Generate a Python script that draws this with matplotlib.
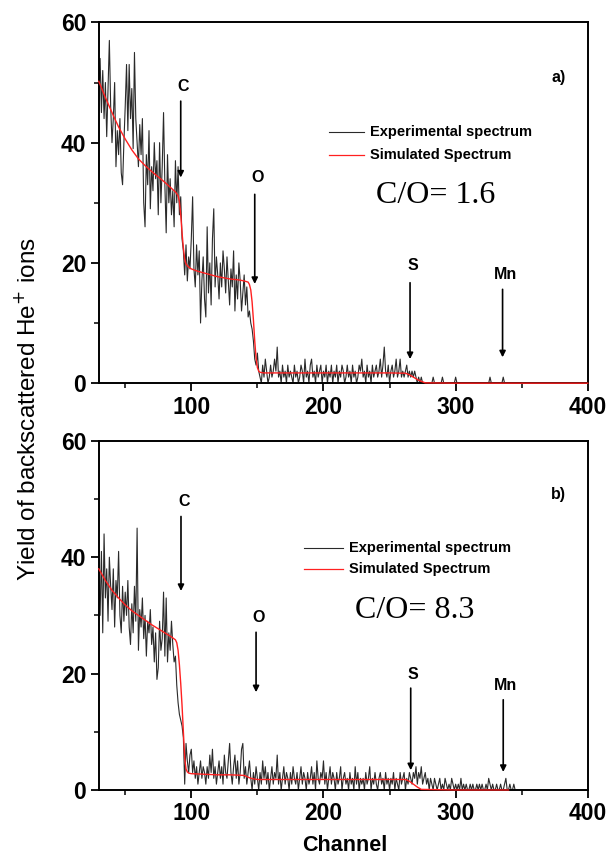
import numpy as np
import matplotlib
matplotlib.use('Agg')
import matplotlib.pyplot as plt
from matplotlib.ticker import MultipleLocator

plt.rcParams['font.family'] = ['Liberation Sans', 'DejaVu Sans']

# experimental counts, one value per channel starting at channel 30
exp_a = [
    50, 54, 45, 52, 44, 50, 41, 49, 57, 46,
    40, 44, 50, 36, 42, 38, 44, 35, 33, 40,
    46, 53, 42, 53, 44, 49, 39, 55, 44, 40,
    36, 43, 38, 44, 30, 26, 38, 33, 42, 29,
    36, 32, 40, 34, 37, 28, 40, 30, 36, 45,
    33, 25, 38, 30, 34, 28, 32, 26, 37, 30,
    36, 28, 31, 24, 22, 18, 23, 17, 21, 19,
    24, 31, 19, 16, 23, 18, 22, 10, 17, 21,
    14, 11, 26, 15, 20, 13, 24, 29, 16, 21,
    18, 14, 20, 16, 22, 19, 15, 21, 17, 13,
    19, 16, 22, 12, 18, 14, 20, 17, 12, 15,
    18, 13, 16, 11, 12, 10, 9, 7, 4, 3,
    5, 2, 1, 0, 3, 1, 4, 2, 0, 1,
    3, 1, 2, 4, 2, 6, 1, 2, 0, 3,
    1, 2, 0, 3, 1, 2, 1, 0, 3, 1,
    2, 0, 1, 3, 2, 0, 4, 1, 2, 0,
    3, 4, 1, 2, 0, 3, 1, 2, 3, 0,
    2, 1, 3, 0, 2, 1, 3, 0, 2, 1,
    3, 0, 2, 1, 3, 2, 0, 1, 3, 1,
    2, 0, 3, 1, 2, 0, 1, 3, 2, 4,
    1, 2, 0, 3, 1, 2, 0, 3, 1, 2,
    3, 1, 2, 4, 1, 3, 6, 2, 1, 3,
    0, 2, 3, 1, 2, 4, 1, 2, 4, 1,
    2, 1, 2, 3, 1, 2, 1, 2, 1, 2,
    1, 0, 1, 0, 1, 0, 0, 0, 0, 0,
    0, 0, 0, 1, 0, 0, 0, 0, 0, 0,
    1, 0, 0, 0, 0, 0, 0, 0, 0, 0,
    1, 0, 0, 0, 0, 0, 0, 0, 0, 0,
    0, 0, 0, 0, 0, 0, 0, 0, 0, 0,
    0, 0, 0, 0, 0, 0, 1, 0, 0, 0,
    0, 0, 0, 0, 0, 0, 1, 0, 0, 0,
]

exp_b = [
    36, 30, 41, 27, 44, 33, 38, 29, 40, 35,
    31, 38, 28, 36, 33, 41, 30, 27, 35, 29,
    34, 30, 36, 28, 25, 32, 27, 35, 29, 45,
    24, 31, 28, 33, 26, 30, 23, 29, 27, 31,
    25, 28, 22, 27, 19, 21, 29, 24, 26, 34,
    23, 33, 22, 27, 24, 29, 25, 22, 23, 18,
    15, 13, 12, 11, 9, 1, 8, 5, 3, 6,
    7, 3, 5, 2, 4, 1, 3, 5, 2, 4,
    3, 1, 4, 2, 6, 3, 7, 2, 4, 1,
    3, 5, 2, 4, 1, 6, 3, 2, 5, 8,
    3, 1, 4, 6, 2, 5, 1, 3, 7, 8,
    2, 4, 1, 3, 5, 2, 0, 3, 1, 4,
    2, 0, 3, 1, 5, 2, 4, 1, 3, 0,
    2, 4, 1, 3, 2, 6, 1, 3, 0, 2,
    4, 1, 3, 2, 0, 3, 1, 4, 2, 1,
    3, 0, 2, 4, 1, 3, 2, 0, 3, 1,
    2, 4, 1, 3, 0, 5, 2, 1, 3, 2,
    5, 1, 3, 0, 2, 4, 1, 3, 2, 0,
    3, 1, 2, 4, 0, 2, 3, 1, 2, 0,
    3, 1, 2, 0, 4, 1, 3, 0, 2, 1,
    2, 0, 3, 1, 2, 4, 0, 2, 1, 3,
    1, 0, 2, 3, 1, 2, 0, 3, 1, 2,
    0, 2, 1, 3, 0, 2, 1, 0, 3, 1,
    2, 3, 0, 2, 1, 3, 2, 1, 3, 2,
    4, 1, 3, 2, 4, 1, 2, 3, 1, 2,
    0, 2, 1, 0, 2, 1, 0, 1, 2, 0,
    1, 0, 2, 1, 0, 1, 0, 2, 1, 0,
    1, 0, 1, 0, 2, 0, 1, 0, 1, 0,
    0, 1, 0, 1, 0, 0, 1, 0, 1, 0,
    1, 0, 0, 1, 0, 2, 1, 0, 1, 0,
    0, 1, 0, 0, 1, 0, 0, 1, 2, 0,
    0, 1, 0, 0, 1, 0,
]

# simulated spectra read at key channels
sim_a_ch = [30, 35, 40, 45, 50, 55, 60, 65, 70, 75, 80, 85, 88, 90, 91, 92, 93, 94, 95, 96, 98,
            100, 105, 110, 115, 120, 125, 130, 135, 140, 143, 144, 145, 146, 147, 148, 149, 150,
            151, 152, 155, 160, 200, 250, 262, 265, 268, 271, 274, 277, 300, 350, 400]
sim_a = [50.2, 47.5, 45, 42.6, 40.6, 38.8, 37.3, 36.2, 35.2, 34.3, 33.4, 32.4, 31.8, 31.2, 30.2,
         28, 25, 22.5, 20.6, 19.8, 19.3, 19, 18.6, 18.3, 18.0, 17.7, 17.5, 17.3, 17.2, 17.0, 16.8,
         16.4, 15.5, 13.5, 10.5, 7, 4.2, 2.6, 2.0, 1.8, 1.7, 1.7, 1.7, 1.7, 1.65, 1.4, 1.0, 0.6,
         0.3, 0.05, 0, 0, 0]

sim_b_ch = [30, 35, 40, 45, 50, 55, 60, 65, 70, 75, 80, 85, 88, 89, 90, 91, 92, 93, 94, 95, 96,
            97, 98, 100, 110, 120, 130, 140, 145, 150, 160, 200, 250, 262, 265, 268, 271, 274,
            300, 340]
sim_b = [38, 36, 34.3, 33, 31.8, 30.8, 30, 29.2, 28.4, 27.7, 27, 26.3, 25.8, 25.3, 24, 21.5,
         18.3, 14.5, 10, 5.5, 3.6, 3.1, 2.9, 2.8, 2.7, 2.6, 2.6, 2.5, 2.0, 1.8, 1.8, 1.8, 1.8,
         1.8, 1.5, 1.0, 0.5, 0.1, 0, 0]

# element markers: label, channel, label y, arrow top, arrow tip
marks_a = [('C', 92, 49.4, 46.9, 34.2), ('O', 148, 34.2, 31.4, 16.5),
           ('S', 265.5, 19.5, 16.7, 4.0), ('Mn', 335.5, 18.1, 15.6, 4.3)]
marks_b = [('C', 92.2, 49.5, 47, 34.2), ('O', 149, 29.7, 27.1, 16.8),
           ('S', 266, 19.8, 17.5, 3.4), ('Mn', 336, 17.9, 15.5, 3.1)]

ch_a = np.arange(30, 30 + len(exp_a))
ch_b = np.arange(30, 30 + len(exp_b))

fig = plt.figure(figsize=(6.06, 8.61), dpi=100)
ax1 = fig.add_axes([0.163, 0.555, 0.807, 0.419])
ax2 = fig.add_axes([0.163, 0.0825, 0.807, 0.4055])


def draw_panel(ax, ch, exp, sim_ch, sim, marks, tag, ratio, leg_y, ratio_y, leg_x):
    ax.plot(ch, exp, color='#2a2a2a', lw=0.8)
    ax.plot(sim_ch, sim, color='#ff2020', lw=1.0, zorder=4, clip_on=False)
    ax.set_xlim(30, 400)
    ax.set_ylim(0, 60)
    ax.xaxis.set_major_locator(MultipleLocator(100))
    ax.xaxis.set_minor_locator(MultipleLocator(50))
    ax.yaxis.set_major_locator(MultipleLocator(20))
    ax.yaxis.set_minor_locator(MultipleLocator(10))
    ax.tick_params(which='major', length=6, width=1.3, labelsize=16.5, pad=3)
    ax.tick_params(which='minor', length=3.5, width=1.1)
    for lab in ax.get_xticklabels() + ax.get_yticklabels():
        lab.set_fontweight('bold')
    for sp in ax.spines.values():
        sp.set_linewidth(1.4)
    for name, x, ly, y0, y1 in marks:
        ax.annotate('', xy=(x, y1), xytext=(x, y0),
                    arrowprops=dict(arrowstyle='-|>', color='black', lw=1.2,
                                    mutation_scale=9, shrinkA=0, shrinkB=0))
        ax.text(x + 2, ly, name, ha='center', va='center', fontsize=11.5, fontweight='bold')
    ax.text(378, 50.8, tag, ha='center', va='center', fontsize=11.5, fontweight='bold')
    # legend drawn by hand at its place in the panel
    x0, x1 = leg_x
    ax.plot([x0, x1], [leg_y, leg_y], color='#2a2a2a', lw=0.8)
    ax.plot([x0, x1], [leg_y - 3.7, leg_y - 3.7], color='#ff2020', lw=0.9)
    ax.text(x1 + 4, leg_y, 'Experimental spectrum', va='center', fontsize=10.5,
            fontweight='bold')
    ax.text(x1 + 4, leg_y - 3.7, 'Simulated Spectrum', va='center', fontsize=10.5,
            fontweight='bold')
    ax.text(x1 + 9, ratio_y, ratio, va='center', fontsize=23,
            family=['Liberation Serif', 'DejaVu Serif'])


draw_panel(ax1, ch_a, exp_a, sim_a_ch, sim_a, marks_a, 'a)', 'C/O= 1.6', 41.7, 31.2, (204, 231))
draw_panel(ax2, ch_b, exp_b, sim_b_ch, sim_b, marks_b, 'b)', 'C/O= 8.3', 41.6, 30.9, (185, 215))

fig.text(0.045, 0.525, 'Yield of backscattered He$^{+}$ ions', rotation=90,
         ha='center', va='center', fontsize=17.5)
fig.text(0.569, 0.006, 'Channel', ha='center', va='bottom', fontsize=15.5, fontweight='bold')

fig.savefig('out.png', dpi=100)
